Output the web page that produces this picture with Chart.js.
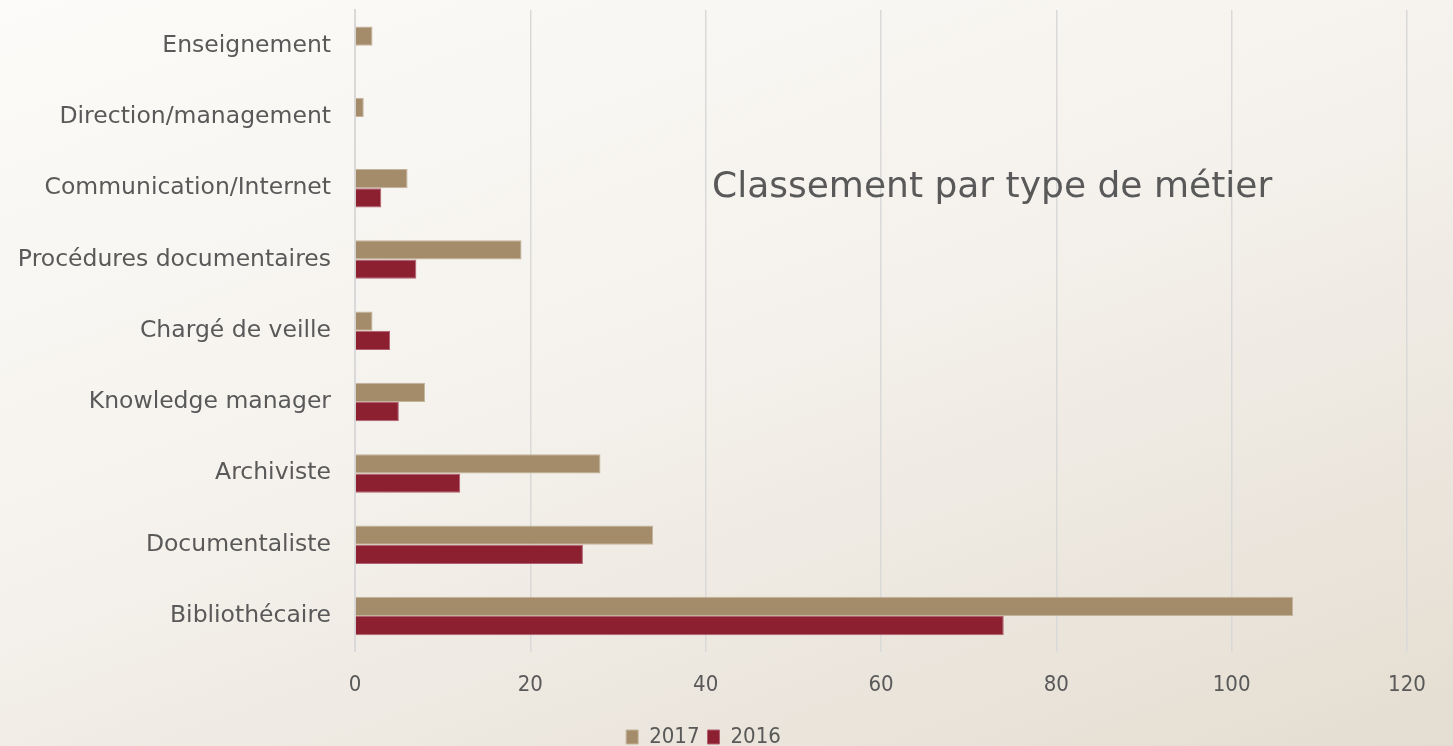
<!DOCTYPE html>
<html>
<head>
<meta charset="utf-8">
<script src="https://cdn.jsdelivr.net/npm/chart.js@4/dist/chart.umd.min.js"></script>
<style>
  html, body { margin: 0; padding: 0; }
  body {
    width: 1453px; height: 746px; overflow: hidden;
    background: linear-gradient(160deg, #fcfbf9 0%, #f5f2ed 45%, #e4ddd1 100%);
  }
</style>
</head>
<body>
<canvas id="myChart" width="1453" height="746"></canvas>
<script>
'use strict';
const categories = ['Enseignement', 'Direction/management', 'Communication/Internet',
  'Procédures documentaires', 'Chargé de veille', 'Knowledge manager',
  'Archiviste', 'Documentaliste', 'Bibliothécaire'];
const values2017 = [2, 1, 6, 19, 2, 8, 28, 34, 107];
const values2016 = [0, 0, 3, 7, 4, 5, 12, 26, 74];
const xTicks = [0, 20, 40, 60, 80, 100, 120];
const FONT = '"DejaVu Sans", sans-serif';
const NARROW = '"Liberation Sans Narrow", "DejaVu Sans Condensed", sans-serif';
const TEXT = '#595959';

// titre dessiné dans la zone du graphique
const innerTitle = {
  id: 'innerTitle',
  afterDraw(chart) {
    const c = chart.ctx;
    c.save();
    c.font = '36px ' + FONT;
    c.fillStyle = TEXT;
    c.textBaseline = 'middle';
    c.fillText('Classement par type de métier', 712, 188, 563);
    c.restore();
  }
};

const ctx = document.getElementById('myChart');
new Chart(ctx, {
  type: 'bar',
  data: {
    labels: categories,
    datasets: [{
      label: '2017',
      data: values2017,
      backgroundColor: '#a48b6a',
      borderColor: '#c4b39b',
      borderWidth: 1
    }, {
      label: '2016',
      data: values2016,
      backgroundColor: '#8c2030',
      borderColor: '#b06070',
      borderWidth: 1
    }]
  },
  options: {
    indexAxis: 'y',
    responsive: false,
    animation: false,
    devicePixelRatio: 1,
    categoryPercentage: 0.54,
    barPercentage: 1,
    layout: { padding: { top: 10, right: 46, bottom: -12, left: 0 } },
    scales: {
      x: {
        min: 0, max: 120,
        afterBuildTicks: (s) => { s.ticks = xTicks.map(v => ({ value: v })); },
        grid: { color: '#d9d9d9', lineWidth: 1.5, drawTicks: false },
        border: { display: false },
        ticks: { color: TEXT, font: { family: NARROW, size: 22 }, padding: 20 }
      },
      y: {
        afterFit: (s) => { s.width = 355; s.paddingTop = 0; s.paddingBottom = 0; },
        grid: { display: false, drawTicks: false },
        border: { display: true, color: '#d9d9d9', width: 2 },
        ticks: { color: TEXT, font: { family: FONT, size: 23.5 }, padding: 24 }
      }
    },
    plugins: {
      legend: {
        position: 'bottom',
        labels: {
          color: TEXT, font: { family: NARROW, size: 22 },
          boxWidth: 12, boxHeight: 14, padding: 8
        }
      },
      tooltip: { enabled: false }
    }
  },
  plugins: [innerTitle]
});
</script>
</body>
</html>
